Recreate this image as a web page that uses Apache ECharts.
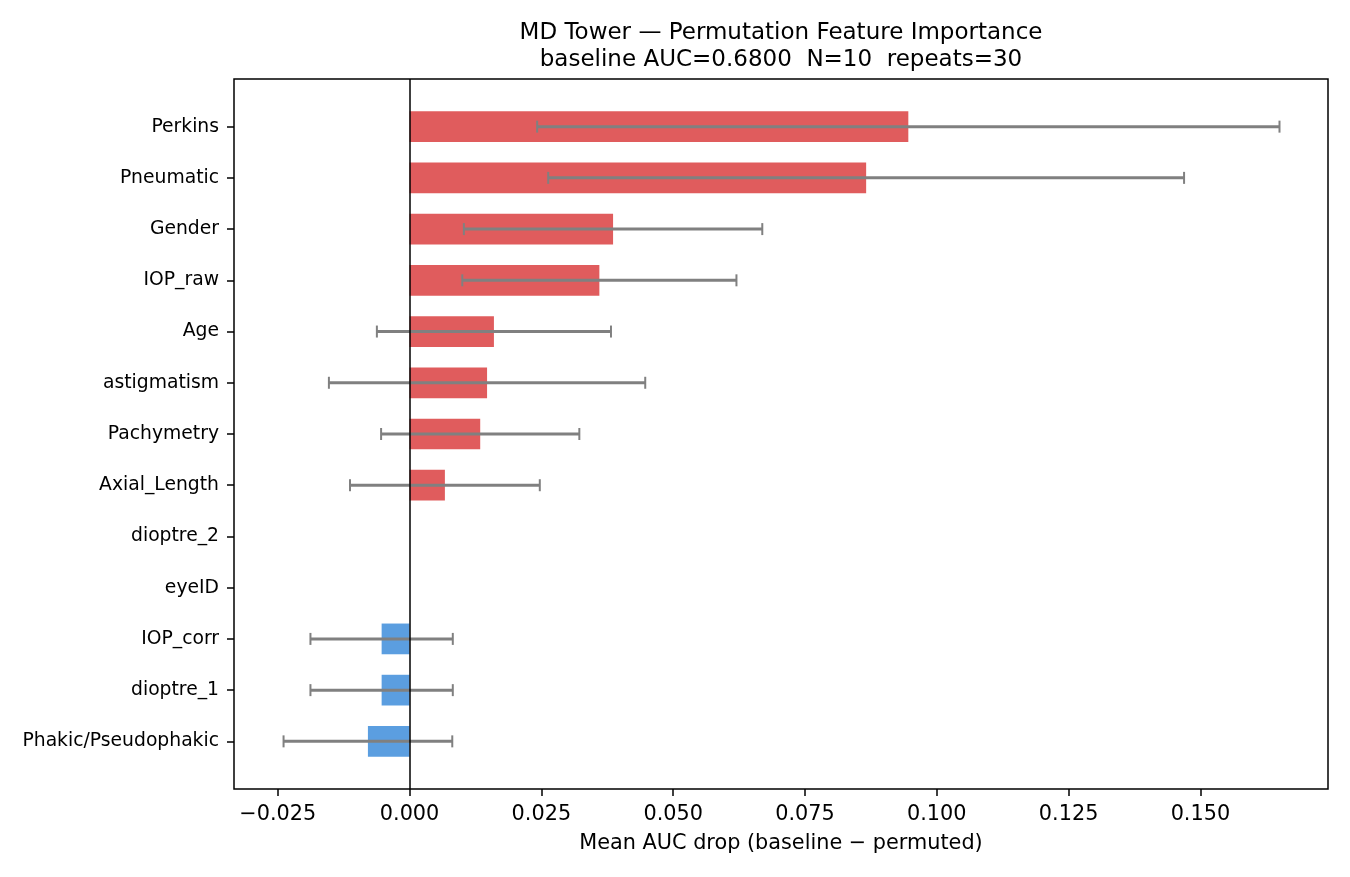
<!DOCTYPE html>
<html>
<head>
<meta charset="utf-8">
<script src="https://cdn.jsdelivr.net/npm/echarts@6.0.0/dist/echarts.min.js"></script>
<style>
  html, body { margin: 0; padding: 0; background: #fff; }
  #chart { width: 1350px; height: 877px; }
</style>
</head>
<body>
<div id="chart"></div>
<script>
// features, top to bottom as shown
var features = ['Perkins', 'Pneumatic', 'Gender', 'IOP_raw', 'Age', 'astigmatism', 'Pachymetry',
  'Axial_Length', 'dioptre_2', 'eyeID', 'IOP_corr', 'dioptre_1', 'Phakic/Pseudophakic']
// mean AUC drop
var meanDrop = [0.0946, 0.0866, 0.0386, 0.0360, 0.0160, 0.0147, 0.0134,
  0.0067, 0.0, 0.0, -0.0053, -0.0053, -0.0079]
// std over repeats (error bars)
var stdDrop = [0.0704, 0.0603, 0.0283, 0.0260, 0.0222, 0.0300, 0.0188,
  0.0180, 0.0, 0.0, 0.0135, 0.0135, 0.0160]
var xTicks = [-0.025, 0.000, 0.025, 0.050, 0.075, 0.100, 0.125, 0.150]

var red = '#e05c5d'
var blue = '#5b9ee0'
var font = 'DejaVu Sans'

var barData = []
var errData = []
for (var i = 0; i < features.length; i++) {
  barData.push([meanDrop[i], i])
  errData.push([meanDrop[i], i, stdDrop[i]])
}
var yTicks = features.map(function (f, i) { return i })

var chart = echarts.init(document.getElementById('chart'), null, { renderer: 'canvas' })

chart.setOption({
  backgroundColor: '#fff',
  animation: false,
  title: {
    text: 'MD Tower — Permutation Feature Importance\nbaseline AUC=0.6800  N=10  repeats=30',
    left: 781,
    top: 20,
    padding: 0,
    textAlign: 'center',
    textStyle: { fontFamily: font, fontSize: 23, fontWeight: 'normal', color: '#000', lineHeight: 27 }
  },
  grid: {
    left: 234, right: 22, top: 79, bottom: 88,
    show: true, borderColor: '#000', borderWidth: 1.5, backgroundColor: 'transparent'
  },
  xAxis: {
    type: 'value',
    min: -0.0333,
    max: 0.1742,
    name: 'Mean AUC drop (baseline − permuted)',
    nameLocation: 'middle',
    nameGap: 44,
    nameTextStyle: { fontFamily: font, fontSize: 20.8, color: '#000' },
    axisLine: { show: false, onZero: false },
    splitLine: { show: false },
    axisTick: { show: true, length: 7, lineStyle: { color: '#000', width: 1.5 }, customValues: xTicks },
    axisLabel: {
      margin: 15,
      fontFamily: font, fontSize: 20.8, color: '#000',
      customValues: xTicks,
      formatter: function (v) { return (v < 0 ? '−' : '') + Math.abs(v).toFixed(3) }
    }
  },
  yAxis: {
    type: 'value',
    inverse: true,
    min: -0.93,
    max: 12.93,
    axisLine: { show: false, onZero: false },
    splitLine: { show: false },
    axisTick: { show: true, length: 7, lineStyle: { color: '#000', width: 1.5 }, customValues: yTicks },
    axisLabel: {
      margin: 15,
      fontFamily: font, fontSize: 18.75, color: '#000',
      customValues: yTicks,
      formatter: function (v) { return features[Math.round(v)] }
    }
  },
  series: [
    {
      type: 'custom',
      name: 'bars',
      data: barData,
      encode: { x: 0, y: 1 },
      renderItem: function (params, api) {
        var v = api.value(0)
        var idx = api.value(1)
        var a = api.coord([0, idx - 0.3])
        var b = api.coord([v, idx + 0.3])
        return {
          type: 'rect',
          shape: {
            x: Math.min(a[0], b[0]), y: Math.min(a[1], b[1]),
            width: Math.abs(b[0] - a[0]), height: Math.abs(b[1] - a[1])
          },
          style: { fill: v >= 0 ? red : blue }
        }
      },
      markLine: {
        silent: true,
        symbol: 'none',
        label: { show: false },
        lineStyle: { color: '#000', width: 1.5, type: 'solid' },
        data: [{ xAxis: 0 }]
      },
      z: 2
    },
    {
      type: 'custom',
      name: 'errors',
      data: errData,
      encode: { x: 0, y: 1 },
      renderItem: function (params, api) {
        var m = api.value(0)
        var idx = api.value(1)
        var s = api.value(2)
        if (!s) return null
        var l = api.coord([m - s, idx])
        var r = api.coord([m + s, idx])
        var st = { stroke: '#808080', lineWidth: 3 }
        var cap = { stroke: '#808080', lineWidth: 2 }
        return {
          type: 'group',
          children: [
            { type: 'line', shape: { x1: l[0], y1: l[1], x2: r[0], y2: r[1] }, style: st },
            { type: 'line', shape: { x1: l[0], y1: l[1] - 6, x2: l[0], y2: l[1] + 6 }, style: cap },
            { type: 'line', shape: { x1: r[0], y1: r[1] - 6, x2: r[0], y2: r[1] + 6 }, style: cap }
          ]
        }
      },
      z: 3
    }
  ]
})
</script>
</body>
</html>
